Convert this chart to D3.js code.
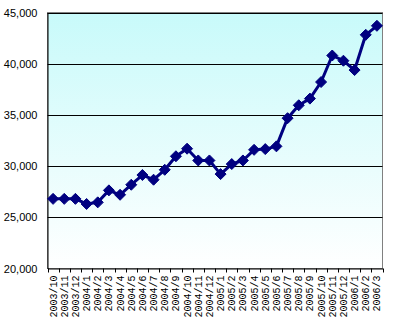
<!DOCTYPE html>
<html><head><meta charset="utf-8">
<script src="https://cdn.jsdelivr.net/npm/d3@7"></script>
<style>
html,body{margin:0;padding:0;background:#fff;}
svg{display:block;}
</style></head>
<body>
<svg id="chart" width="395" height="328"></svg>
<script>
const categories = ["2003/10","2003/11","2003/12","2004/1","2004/2","2004/3","2004/4","2004/5","2004/6","2004/7","2004/8","2004/9","2004/10","2004/11","2004/12","2005/1","2005/2","2005/3","2005/4","2005/5","2005/6","2005/7","2005/8","2005/9","2005/10","2005/11","2005/12","2006/1","2006/2","2006/3"];
const values = [26800,26800,26800,26300,26460,27630,27200,28180,29130,28670,29640,30960,31700,30550,30550,29220,30200,30550,31590,31660,31930,34680,35940,36590,38210,40800,40290,39380,42820,43700];
const yTicks = [20000,25000,30000,35000,40000,45000];

const svg = d3.select("#chart");
const m = {left:47.5, right:382.5, top:12.5, bottom:268.5};

const x = d3.scaleBand().domain(categories).range([m.left, m.right]).padding(0);
const y = d3.scaleLinear().domain([20000,45000]).range([m.bottom, m.top]);

const defs = svg.append("defs");
const grad = defs.append("linearGradient").attr("id","bg").attr("x1",0).attr("y1",0).attr("x2",0).attr("y2",1);
grad.append("stop").attr("offset","0%").attr("stop-color","#c8fafa");
grad.append("stop").attr("offset","100%").attr("stop-color","#ffffff");

svg.append("rect").attr("x",m.left).attr("y",m.top)
  .attr("width",m.right-m.left).attr("height",m.bottom-m.top)
  .attr("fill","url(#bg)").attr("stroke","#808080").attr("stroke-width",1);

// gridlines
svg.append("g").selectAll("line").data(yTicks.filter(d=>d>20000)).join("line")
  .attr("x1",m.left).attr("x2",m.right)
  .attr("y1",d=>Math.round(y(d))+0.5).attr("y2",d=>Math.round(y(d))+0.5)
  .attr("stroke","#000").attr("stroke-width",1);

// y axis
const yAxis = d3.axisLeft(y).tickValues(yTicks).tickSize(0).tickPadding(10)
  .tickFormat(d3.format(","));
const gy = svg.append("g").attr("transform",`translate(${m.left},0)`).call(yAxis);
gy.select(".domain").attr("stroke","#000");
gy.selectAll("text").attr("font-family","'Liberation Sans', Arial, sans-serif")
  .attr("font-size","11px").attr("fill","#000");

// x axis
const xAxis = d3.axisBottom(x).tickSize(0).tickFormat(d=>d);
const gx = svg.append("g").attr("transform",`translate(0,${m.bottom})`).call(xAxis);
gx.select(".domain").attr("stroke","#000");
gx.selectAll("text")
  .attr("font-family","'Liberation Mono', 'DejaVu Sans Mono', monospace")
  .attr("font-size","10px").attr("fill","#000")
  .attr("text-anchor","end")
  .attr("transform","rotate(-90)")
  .attr("x",-7).attr("y",0).attr("dy","0.35em");
// category boundary ticks
const bounds = categories.map(c=>x(c)).concat([m.right]);
svg.append("g").selectAll("line").data(bounds).join("line")
  .attr("x1",d=>Math.round(d)+0.5).attr("x2",d=>Math.round(d)+0.5)
  .attr("y1",m.bottom).attr("y2",m.bottom+4)
  .attr("stroke","#000");

// line
const cx = d=>x(d)+x.bandwidth()/2;
const data = categories.map((c,i)=>({c, v:values[i]}));
svg.append("path").datum(data)
  .attr("fill","none").attr("stroke","#000080").attr("stroke-width",3)
  .attr("stroke-linejoin","round")
  .attr("d", d3.line().x(d=>cx(d.c)).y(d=>y(d.v)));

// diamond markers
const r = 5.5;
svg.append("g").selectAll("path").data(data).join("path")
  .attr("d",d=>{const X=cx(d.c),Y=y(d.v);return `M${X},${Y-r}L${X+r},${Y}L${X},${Y+r}L${X-r},${Y}Z`;})
  .attr("fill","#000080").attr("stroke","#000080").attr("stroke-width",1);
</script>
</body></html>
